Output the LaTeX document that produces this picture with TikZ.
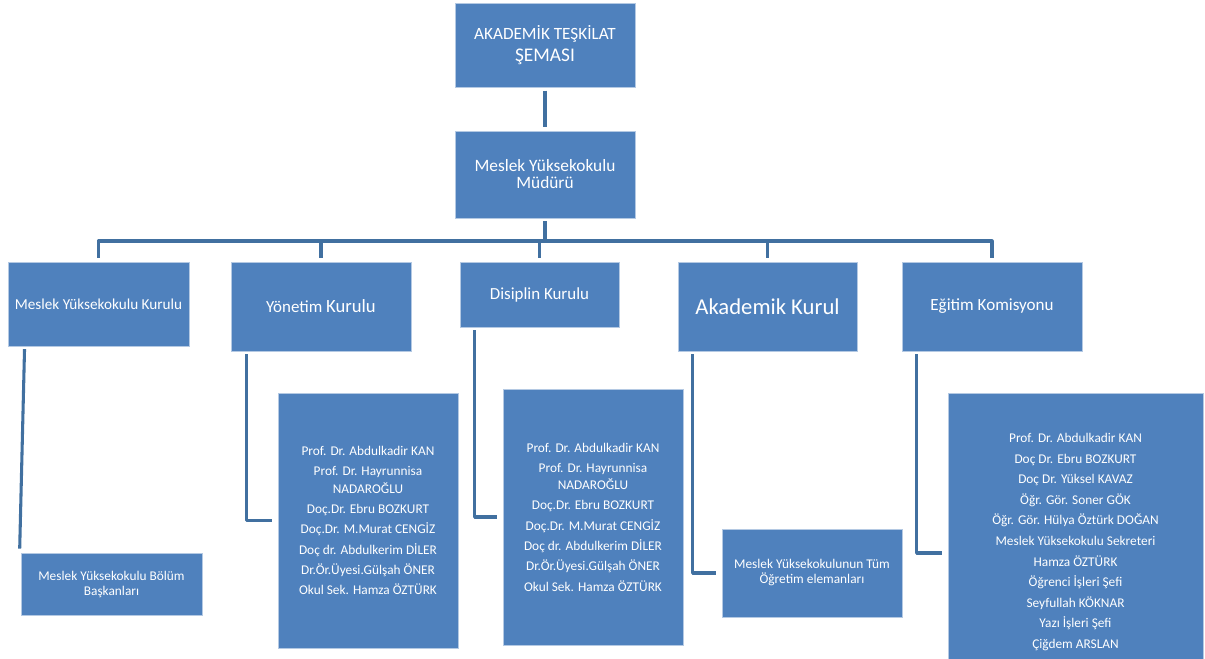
\documentclass[tikz,border=0pt]{standalone}
\usepackage{fontspec}
\setmainfont{Carlito}
\usetikzlibrary{calc}

\definecolor{boxblue}{RGB}{79,129,189}
\definecolor{boxedge}{RGB}{180,201,227}
\definecolor{lineblue}{RGB}{65,112,160}

\tikzset{
  unit/.style 2 args={fill=boxblue, draw=boxedge, line width=0.6pt, text=white,
    align=center, inner sep=0pt, minimum width=#1*0.75pt, minimum height=#2*0.75pt},
  link/.style={draw=lineblue, line width=2.3pt, line join=round},
  small/.style={font=\fontsize{10}{13}\selectfont},
}

\newcommand{\kurulnames}{Prof. Dr. Abdulkadir KAN\\[2.2pt]
  Prof. Dr. Hayrunnisa\\NADAROĞLU\\[2.2pt]
  Doç.Dr. Ebru BOZKURT\\[2.2pt]
  Doç.Dr. M.Murat CENGİZ\\[2.2pt]
  Doç dr. Abdulkerim DİLER\\[2.2pt]
  Dr.Ör.Üyesi.Gülşah ÖNER\\[2.2pt]
  Okul Sek. Hamza ÖZTÜRK}

\begin{document}
\begin{tikzpicture}[x=0.75pt, y=-0.75pt]
  \useasboundingbox (0,0) rectangle (1205,659);

  % head of the chart
  \node [unit={180}{84}, font=\fontsize{12.9}{16.5}\selectfont] (top) at (545,45)
    {AKADEMİK TEŞKİLAT\\{\fontsize{14.5}{16.5}\selectfont ŞEMASI}};
  \node [unit={180}{87}, font=\fontsize{13}{12.75}\selectfont] (mud) at (545,174.5)
    {Meslek Yüksekokulu\\Müdürü};
  \coordinate (hub) at (545,241);

  % boards
  \node [unit={181}{84}, font=\fontsize{11.4}{14}\selectfont] (myok) at (98.5,304) {Meslek Yüksekokulu Kurulu};
  \node [unit={180}{89}, font=\fontsize{12.7}{15}\selectfont] (yon) at (321,306.5)
    {Yönetim {\fontsize{14}{15}\selectfont Kurulu}};
  \node [unit={159}{65}, font=\fontsize{12.7}{15}\selectfont] (dis) at (539.5,294.5) {Disiplin Kurulu};
  \node [unit={179}{89}, font=\fontsize{17}{20}\selectfont] (akd) at (767.5,306.5) {Akademik Kurul};
  \node [unit={180}{89}, font=\fontsize{12.8}{15}\selectfont] (egt) at (992,306.5) {Eğitim Komisyonu};

  % members
  \node [unit={181}{62}, font=\fontsize{10}{11.25}\selectfont] (bol) at (111.5,584)
    {Meslek Yüksekokulu Bölüm\\Başkanları};
  \node [unit={180}{255}, small] (yonl) at (368,520.5) {\kurulnames};
  \node [unit={180}{256}, small] (disl) at (593,517) {\kurulnames};
  \node [unit={180}{88}, font=\fontsize{10}{11.25}\selectfont] (akdl) at (812,573)
    {Meslek Yüksekokulunun Tüm\\Öğretim elemanları};
  \node [unit={255}{298}, font=\fontsize{10}{15.4}\selectfont] (egtl) at (1075.5,542)
    {Prof. Dr. Abdulkadir KAN\\Doç Dr. Ebru BOZKURT\\Doç Dr. Yüksel KAVAZ\\
     Öğr. Gör. Soner GÖK\\Öğr. Gör. Hülya Öztürk DOĞAN\\Meslek Yüksekokulu Sekreteri\\
     Hamza ÖZTÜRK\\Öğrenci İşleri Şefi\\Seyfullah KÖKNAR\\Yazı İşleri Şefi\\Çiğdem ARSLAN};

  % connectors
  \draw [link, shorten <=2.5pt, shorten >=3pt] (top) -- (mud);
  \draw [link, shorten <=2pt] (mud) -- (hub);
  \foreach \k in {myok,yon,dis,akd,egt}
    \draw [link, shorten <=3pt] (\k.north) |- (hub);

  \draw [link, shorten <=2pt, shorten >=3pt] ([xshift=12.75pt]myok.south west) -- ([xshift=-0.75pt]bol.north west);
  \draw [link, shorten <=2pt, shorten >=4pt] ([xshift=12pt]yon.south west) |- (yonl.west);
  \draw [link, shorten <=2pt, shorten >=4pt] ([xshift=11.25pt]dis.south west) |- (disl.west);
  \draw [link, shorten <=2pt, shorten >=4pt] ([xshift=11.25pt]akd.south west) |- (akdl.west);
  \draw [link, shorten <=2pt, shorten >=4pt] ([xshift=11.25pt]egt.south west) |- ([yshift=-8.25pt]egtl.west);
\end{tikzpicture}
\end{document}
